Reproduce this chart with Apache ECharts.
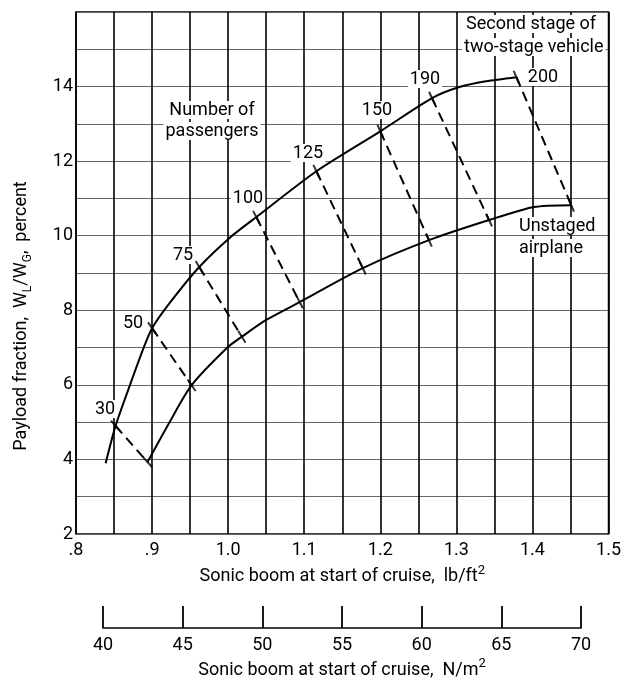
<!DOCTYPE html>
<html>
<head>
<meta charset="utf-8">
<script src="https://cdn.jsdelivr.net/npm/echarts@6/dist/echarts.min.js"></script>
<style>
html,body{margin:0;padding:0;background:#fff;}
#chart{width:624px;height:680px;}
</style>
</head>
<body>
<div id="chart"></div>
<script>
// ---- data (lb/ft^2 vs percent) ----
const upperCurveX = [0.839, 0.852, 0.871, 0.889, 0.900, 0.923, 0.962, 1.003, 1.037, 1.116, 1.200, 1.268, 1.303, 1.339, 1.379];
const upperCurveY = [3.90, 4.90, 6.00, 7.00, 7.52, 8.19, 9.16, 9.96, 10.50, 11.73, 12.80, 13.69, 13.98, 14.14, 14.25];
const lowerCurveX = [0.894, 0.923, 0.952, 0.999, 1.018, 1.050, 1.094, 1.177, 1.264, 1.343, 1.402, 1.451];
const lowerCurveY = [3.93, 5.00, 5.99, 7.00, 7.29, 7.74, 8.22, 9.13, 9.88, 10.42, 10.77, 10.82];
const passengers = [30, 50, 75, 100, 125, 150, 190, 200];
const upperMarkX = [0.852, 0.900, 0.962, 1.037, 1.116, 1.200, 1.268, 1.379];
const upperMarkY = [4.90, 7.52, 9.16, 10.50, 11.73, 12.80, 13.69, 14.25];
const lowerMarkX = [0.894, 0.952, 1.018, 1.094, 1.177, 1.264, 1.343, 1.451];
const lowerMarkY = [3.93, 5.99, 7.29, 8.22, 9.13, 9.88, 10.42, 10.82];
const xTickLabels = ['.8', '.9', '1.0', '1.1', '1.2', '1.3', '1.4', '1.5'];
const yTickLabels = [2, 4, 6, 8, 10, 12, 14];
const nmTickLabels = [40, 45, 50, 55, 60, 65, 70];
const LB_FT2_TO_N_M2 = 47.88;

// ---- layout ----
const F = "Roboto, 'Noto Sans', sans-serif";
const FS = 18;
const W = 624;
const gLeft = 76, gRight = 14, gTop = 12, gBottom = 146;
const plotW = W - gLeft - gRight;
const xMin = 0.8, xMax = 1.5;
const nmMin = nmTickLabels[0], nmMax = nmTickLabels[nmTickLabels.length - 1];
const g2Left = gLeft + (nmMin / LB_FT2_TO_N_M2 - xMin) / (xMax - xMin) * plotW;
const g2Right = W - (gLeft + (nmMax / LB_FT2_TO_N_M2 - xMin) / (xMax - xMin) * plotW);

const chart = echarts.init(document.getElementById('chart'), null, {renderer: 'canvas'});

const zip = (a, b) => a.map((v, i) => [v, b[i]]);

const series = [
  {type: 'line', xAxisIndex: 0, yAxisIndex: 0, data: zip(upperCurveX, upperCurveY), smooth: 0.25, symbol: 'none',
   lineStyle: {color: '#000', width: 2}, z: 5},
  {type: 'line', xAxisIndex: 0, yAxisIndex: 0, data: zip(lowerCurveX, lowerCurveY), smooth: 0.25, symbol: 'none',
   lineStyle: {color: '#000', width: 2}, z: 5}
];
passengers.forEach((p, i) => {
  series.push({type: 'line', xAxisIndex: 0, yAxisIndex: 0, symbol: 'none',
    data: [[upperMarkX[i], upperMarkY[i]], [lowerMarkX[i], lowerMarkY[i]]],
    lineStyle: {color: '#000', width: 2, type: [10, 6]}, z: 4});
});
series.push({type: 'scatter', id: 'marks', xAxisIndex: 0, yAxisIndex: 0, symbol: 'rect', symbolSize: [2, 14],
  itemStyle: {color: '#000'}, z: 6,
  data: zip(upperMarkX, upperMarkY).concat(zip(lowerMarkX, lowerMarkY))});

const txt = (t, x, y, align) => ({
  type: 'text', x: x, y: y, z: 100,
  style: {text: t, font: FS + 'px ' + F, fill: '#000', align: align || 'center', verticalAlign: 'middle',
          backgroundColor: '#fff', padding: [0, 2]}
});

const graphics = [
  txt('30', 105, 409), txt('50', 133, 323), txt('75', 183, 255), txt('100', 248, 198),
  txt('125', 308, 153), txt('150', 377, 110), txt('190', 425, 79), txt('200', 543, 77),
  txt('Number of', 212, 110), txt('passengers', 212, 131),
  txt('Second stage of', 464, 24, 'left'), txt('two-stage vehicle', 462, 47, 'left'),
  txt('Unstaged', 517, 226, 'left'), txt('airplane', 517, 248, 'left'),
  {type: 'text', x: 21, y: 316, rotation: Math.PI / 2, z: 100,
   style: {text: '{n|Payload fraction,  W}{s|L}{n|/W}{s|G}{n|,  percent}',
     align: 'center', verticalAlign: 'middle', fill: '#000',
     rich: {n: {font: FS + 'px ' + F, fill: '#000', lineHeight: 26, verticalAlign: 'middle'},
            s: {font: '12px ' + F, fill: '#000', lineHeight: 12, verticalAlign: 'bottom'}}}}
];

const option = {
  animation: false,
  backgroundColor: '#fff',
  grid: [
    {left: gLeft, right: gRight, top: gTop, bottom: gBottom, show: true, borderColor: '#000', borderWidth: 1.5, backgroundColor: 'transparent'},
    {left: g2Left, right: g2Right, top: 606, height: 23, show: false}
  ],
  xAxis: [
    {type: 'value', gridIndex: 0, min: xMin, max: xMax, interval: 0.05,
     axisLine: {show: false}, axisTick: {show: false},
     splitLine: {show: true, lineStyle: {color: '#000', width: 1.6}},
     axisLabel: {margin: 7, color: '#000', fontFamily: F, fontSize: FS,
       formatter: v => { const k = Math.round(v * 100); return k % 10 === 0 ? xTickLabels[(k - 80) / 10] : ''; }},
     name: '{n|Sonic boom at start of cruise,  lb/ft}{p|2}', nameLocation: 'middle', nameGap: 25,
     nameTextStyle: {color: '#000', rich: {n: {fontFamily: F, fontSize: FS, color: '#000', lineHeight: 26, verticalAlign: 'middle'},
                                           p: {fontFamily: F, fontSize: 13, color: '#000', lineHeight: 12, verticalAlign: 'top'}}}},
    {type: 'value', gridIndex: 1, min: nmMin, max: nmMax, interval: 5, position: 'bottom',
     axisLine: {show: true, lineStyle: {color: '#000', width: 1.6}},
     axisTick: {show: true, inside: true, length: 22, lineStyle: {color: '#000', width: 1.8}},
     splitLine: {show: false},
     axisLabel: {margin: 8, color: '#000', fontFamily: F, fontSize: FS,
       formatter: v => nmTickLabels.indexOf(Math.round(v)) >= 0 ? String(Math.round(v)) : ''},
     name: '{n|Sonic boom at start of cruise,  N/m}{p|2}', nameLocation: 'middle', nameGap: 29,
     nameTextStyle: {color: '#000', rich: {n: {fontFamily: F, fontSize: FS, color: '#000', lineHeight: 26, verticalAlign: 'middle'},
                                           p: {fontFamily: F, fontSize: 13, color: '#000', lineHeight: 12, verticalAlign: 'top'}}}}
  ],
  yAxis: [
    {type: 'value', gridIndex: 0, min: 2, max: 16, interval: 1,
     axisLine: {show: false}, axisTick: {show: false},
     splitLine: {show: true, lineStyle: {color: '#666', width: 1}},
     axisLabel: {margin: 3, color: '#000', fontFamily: F, fontSize: FS,
       formatter: v => yTickLabels.indexOf(v) >= 0 ? String(v) : ''}},
    {type: 'value', gridIndex: 1, show: false, min: 0, max: 1}
  ],
  graphic: graphics,
  series: series
};

chart.setOption(option);

// orient the cross-ticks along each connecting line
const upPix = passengers.map((p, i) => chart.convertToPixel({xAxisIndex: 0, yAxisIndex: 0}, [upperMarkX[i], upperMarkY[i]]));
const loPix = passengers.map((p, i) => chart.convertToPixel({xAxisIndex: 0, yAxisIndex: 0}, [lowerMarkX[i], lowerMarkY[i]]));
const ang = passengers.map((p, i) => Math.atan2(loPix[i][0] - upPix[i][0], loPix[i][1] - upPix[i][1]) * 180 / Math.PI);
const markData = passengers.map((p, i) => ({value: [upperMarkX[i], upperMarkY[i]], symbolRotate: ang[i]}))
  .concat(passengers.map((p, i) => ({value: [lowerMarkX[i], lowerMarkY[i]], symbolRotate: ang[i]})));
chart.setOption({series: [{id: 'marks', data: markData}]});
</script>
</body>
</html>
